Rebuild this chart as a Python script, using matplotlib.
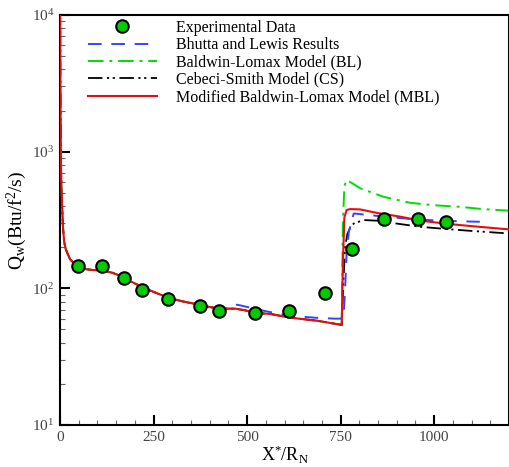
import matplotlib
matplotlib.use("Agg")
import matplotlib.pyplot as plt
from matplotlib.ticker import LogLocator, MultipleLocator, FixedLocator, NullFormatter, FixedFormatter
import numpy as np

plt.rcParams['font.family'] = ['Liberation Serif', 'DejaVu Serif']
plt.rcParams['mathtext.fontset'] = 'custom'
plt.rcParams['mathtext.rm'] = 'Liberation Serif'
plt.rcParams['mathtext.it'] = 'Liberation Serif:italic'

# ---------------- data ----------------
exp_x = [48, 113, 171, 220, 288, 373, 424, 520, 611, 708, 780, 867, 956, 1031]
exp_y = [146, 146, 120, 98, 84, 74, 68, 66, 68, 93, 194, 320, 323, 307]

bl_res_x = [470, 482, 550, 615, 680, 735, 750, 758, 762, 766, 772, 785, 820, 880, 960, 1040, 1122]
bl_res_y = [76, 75, 68, 63, 61, 60, 60, 62, 100, 180, 260, 353, 345, 332, 318, 311, 307]

bl_x = [0, 1, 2, 3, 4, 6, 8, 11, 15, 20, 27, 33, 42, 51, 70, 90, 113, 140, 166, 190, 220, 255, 291,
        330, 371, 400, 424, 450, 469, 495, 522, 562, 615, 686, 753, 756, 760, 766, 780, 802, 864,
        935, 997, 1068, 1130, 1200]
bl_y = [20000, 3000, 1200, 700, 500, 380, 280, 220, 195, 180, 163, 157, 148, 141, 138, 136, 135, 130,
        122, 112, 102, 93, 85, 80, 76, 73, 71, 71, 71, 69, 66, 65, 61, 58, 54, 300, 560, 620, 590,
        540, 468, 423, 406, 395, 380, 370]

cs_x = [0, 1, 2, 3, 4, 6, 8, 11, 15, 20, 27, 33, 42, 51, 70, 90, 113, 140, 166, 190, 220, 255, 291,
        330, 371, 400, 424, 450, 469, 495, 522, 562, 615, 686, 753, 758, 762, 768, 775, 785, 811,
        855, 899, 962, 1030, 1100, 1200]
cs_y = [20000, 3000, 1200, 700, 500, 380, 280, 220, 195, 180, 163, 157, 148, 141, 138, 136, 135, 130,
        122, 112, 102, 93, 85, 80, 76, 73, 71, 71, 71, 69, 66, 65, 61, 58, 54, 120, 201, 250, 275,
        298, 316, 312, 298, 282, 272, 263, 252]

mbl_x = [0, 1, 2, 3, 4, 6, 8, 11, 15, 20, 27, 33, 42, 51, 70, 90, 113, 140, 166, 190, 220, 255, 291,
         330, 371, 400, 424, 450, 469, 482, 495, 522, 562, 615, 686, 753, 756, 760, 766, 775, 802,
         850, 908, 962, 1042, 1120, 1200]
mbl_y = [20000, 3000, 1200, 700, 500, 380, 280, 220, 195, 180, 163, 157, 148, 141, 138, 136, 135, 130,
         122, 112, 102, 93, 85, 80, 76, 73, 71, 71, 71, 70, 69, 66, 65, 61, 58, 54, 150, 330, 374, 380,
         378, 355, 335, 313, 295, 282, 270]

x_ticks = [0, 250, 500, 750, 1000]
x_ticklabels = ['0', '250', '500', '750', '1000']
y_ticks = [10, 100, 1000, 10000]
y_ticklabels = ['$10^{1}$', '$10^{2}$', '$10^{3}$', '$10^{4}$']

labels = ['Experimental Data', 'Bhutta and Lewis Results', 'Baldwin-Lomax Model (BL)',
          'Cebeci-Smith Model (CS)', 'Modified Baldwin-Lomax Model (MBL)']

# ---------------- figure ----------------
fig = plt.figure(figsize=(5.10, 4.67), dpi=100)
ax = fig.add_axes([60/510, 1-425/467, 449/510, 410/467])

h_bl, = ax.plot(bl_x, bl_y, color='#00dd00', lw=1.4, ls=(0, (8, 3, 1.5, 3)), zorder=2)
h_cs, = ax.plot(cs_x, cs_y, color='black', lw=1.3, ls=(0, (8, 2.5, 1.2, 2, 1.2, 2.5)), zorder=3)
h_res, = ax.plot(bl_res_x, bl_res_y, color='#3344ff', lw=1.4, ls=(0, (7, 5)), zorder=4)
h_mbl, = ax.plot(mbl_x, mbl_y, color='#e41010', lw=1.5, zorder=5)
h_exp, = ax.plot(exp_x, exp_y, ls='none', marker='o', ms=9, mfc='#00cc00', mec='black',
                 mew=1.5, zorder=6)

ax.set_yscale('log')
ax.set_xlim(0, 1200)
ax.set_ylim(10, 10000)

ax.xaxis.set_major_locator(FixedLocator(x_ticks))
ax.xaxis.set_major_formatter(FixedFormatter(x_ticklabels))
ax.xaxis.set_minor_locator(MultipleLocator(50))
ax.yaxis.set_major_locator(FixedLocator(y_ticks))
ax.yaxis.set_major_formatter(FixedFormatter(y_ticklabels))
ax.yaxis.set_minor_locator(LogLocator(base=10, subs=np.arange(2, 10)))
ax.yaxis.set_minor_formatter(NullFormatter())

ax.tick_params(which='major', direction='in', length=7, width=1.5, labelsize=11,
               labelcolor='#444444', top=False, right=False, pad=4)
ax.tick_params(which='minor', direction='in', length=3.5, width=0.8, top=False, right=False,
               color='#666666')
for s in ax.spines.values():
    s.set_linewidth(1.5)

ax.set_xlabel('X$^{*}$/R$_{\\mathrm{N}}$', fontsize=13, labelpad=0)
ax.set_ylabel('Q$_{\\mathrm{w}}$(Btu/f$^{2}$/s)', fontsize=14, labelpad=2)

leg = ax.legend([h_exp, h_res, h_bl, h_cs, h_mbl], labels, loc='upper left',
                bbox_to_anchor=((88-60)/449, 1-5/410), frameon=False, fontsize=11.5,
                handlelength=4.3, handletextpad=1.2, labelspacing=0.08, borderpad=0,
                borderaxespad=0, numpoints=1)

fig.savefig('out.png', dpi=100)
